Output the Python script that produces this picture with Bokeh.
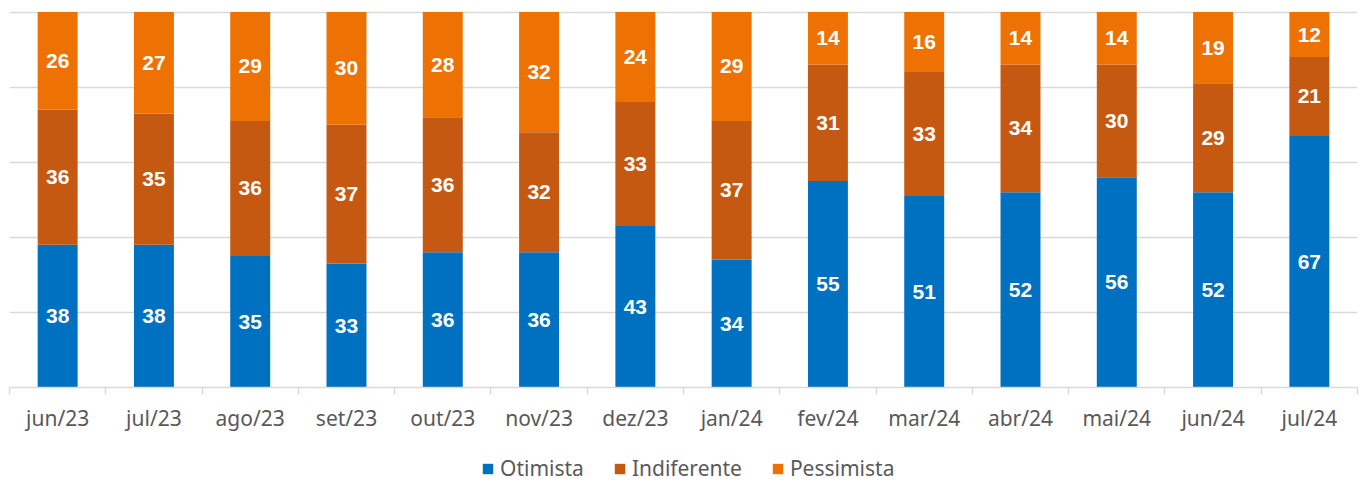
from bokeh.plotting import figure
from bokeh.layouts import column
from bokeh.models import ColumnDataSource, FixedTicker, Range1d, Legend, LegendItem, LabelSet
from bokeh.embed import file_html
from bokeh.resources import INLINE
from bokeh.core.properties import value

months = ["jun/23", "jul/23", "ago/23", "set/23", "out/23", "nov/23", "dez/23",
          "jan/24", "fev/24", "mar/24", "abr/24", "mai/24", "jun/24", "jul/24"]
otimista = [38, 38, 35, 33, 36, 36, 43, 34, 55, 51, 52, 56, 52, 67]
indiferente = [36, 35, 36, 37, 36, 32, 33, 37, 31, 33, 34, 30, 29, 21]
pessimista = [26, 27, 29, 30, 28, 32, 24, 29, 14, 16, 14, 14, 19, 12]

series = ["Otimista", "Indiferente", "Pessimista"]
colors = ["#0070C0", "#C65911", "#EE7203"]

n = len(months)
x = [i + 0.5 for i in range(n)]
data = dict(x=x, Otimista=otimista, Indiferente=indiferente, Pessimista=pessimista)
# label positions (segment centers)
data["y_o"] = [v / 2 for v in otimista]
data["y_i"] = [o + v / 2 for o, v in zip(otimista, indiferente)]
data["y_p"] = [o + i + v / 2 for o, i, v in zip(otimista, indiferente, pessimista)]
data["t_o"] = [str(v) for v in otimista]
data["t_i"] = [str(v) for v in indiferente]
data["t_p"] = [str(v) for v in pessimista]
src = ColumnDataSource(data)

p = figure(width=1366, height=445, output_backend="svg", toolbar_location=None,
           x_range=Range1d(0, n), y_range=Range1d(0, 100.4),
           min_border_left=9, min_border_right=9, min_border_top=10,
           min_border_bottom=58)
p.outline_line_color = None
p.background_fill_color = "white"

rs = p.vbar_stack(series, x="x", width=0.415, color=colors, source=src, line_color=None)

FONT = "Noto Sans"
for ycol, tcol in [("y_o", "t_o"), ("y_i", "t_i"), ("y_p", "t_p")]:
    lab = LabelSet(x="x", y=ycol, text=tcol, source=src, text_align="center",
                   text_baseline="middle", text_color="white", text_font_size="21px",
                   text_font_style="bold", text_font=value("Liberation Sans"))
    p.add_layout(lab)

# y axis hidden, grid kept
p.yaxis.ticker = FixedTicker(ticks=[0, 20, 40, 60, 80, 100])
p.yaxis.visible = False
p.ygrid.grid_line_color = "#D9D9D9"
p.ygrid.grid_line_width = 1.5
p.xgrid.visible = False

xa = p.xaxis[0]
xa.ticker = FixedTicker(ticks=x, minor_ticks=list(range(n + 1)))
xa.major_label_overrides = {xi: m for xi, m in zip(x, months)}
xa.major_tick_line_color = None
xa.major_tick_out = 0
xa.major_tick_in = 0
xa.minor_tick_out = 7
xa.minor_tick_in = 0
xa.minor_tick_line_color = "#D9D9D9"
xa.minor_tick_line_width = 1.5
xa.axis_line_color = "#D9D9D9"
xa.axis_line_width = 1.5
xa.major_label_text_font = FONT
xa.major_label_text_font_size = "21px"
xa.major_label_text_color = "#595959"
xa.major_label_standoff = 9

# legend strip (hidden copies of the series provide the legend swatches)
p2 = figure(width=1366, height=37, output_backend="svg", toolbar_location=None,
            x_range=Range1d(0, n), y_range=Range1d(0, 100),
            x_axis_type=None, y_axis_type=None, min_border=0)
p2.outline_line_color = None
p2.grid.visible = False
hidden = p2.vbar_stack(series, x="x", width=0.415, color=colors, source=src,
                       line_color=None, visible=False)
legend = Legend(items=[LegendItem(label=s, renderers=[r]) for s, r in zip(series, hidden)],
                orientation="horizontal", location=(472, 0),
                label_text_font=FONT, label_text_font_size="21px",
                label_text_color="#595959", glyph_width=13, glyph_height=13,
                label_standoff=6, spacing=29, border_line_color=None,
                background_fill_alpha=0, margin=0, padding=0,
                inactive_fill_alpha=0)
p2.add_layout(legend, "center")

layout = column(p, p2, spacing=0)
open("out.html", "w").write(file_html(layout, INLINE))
